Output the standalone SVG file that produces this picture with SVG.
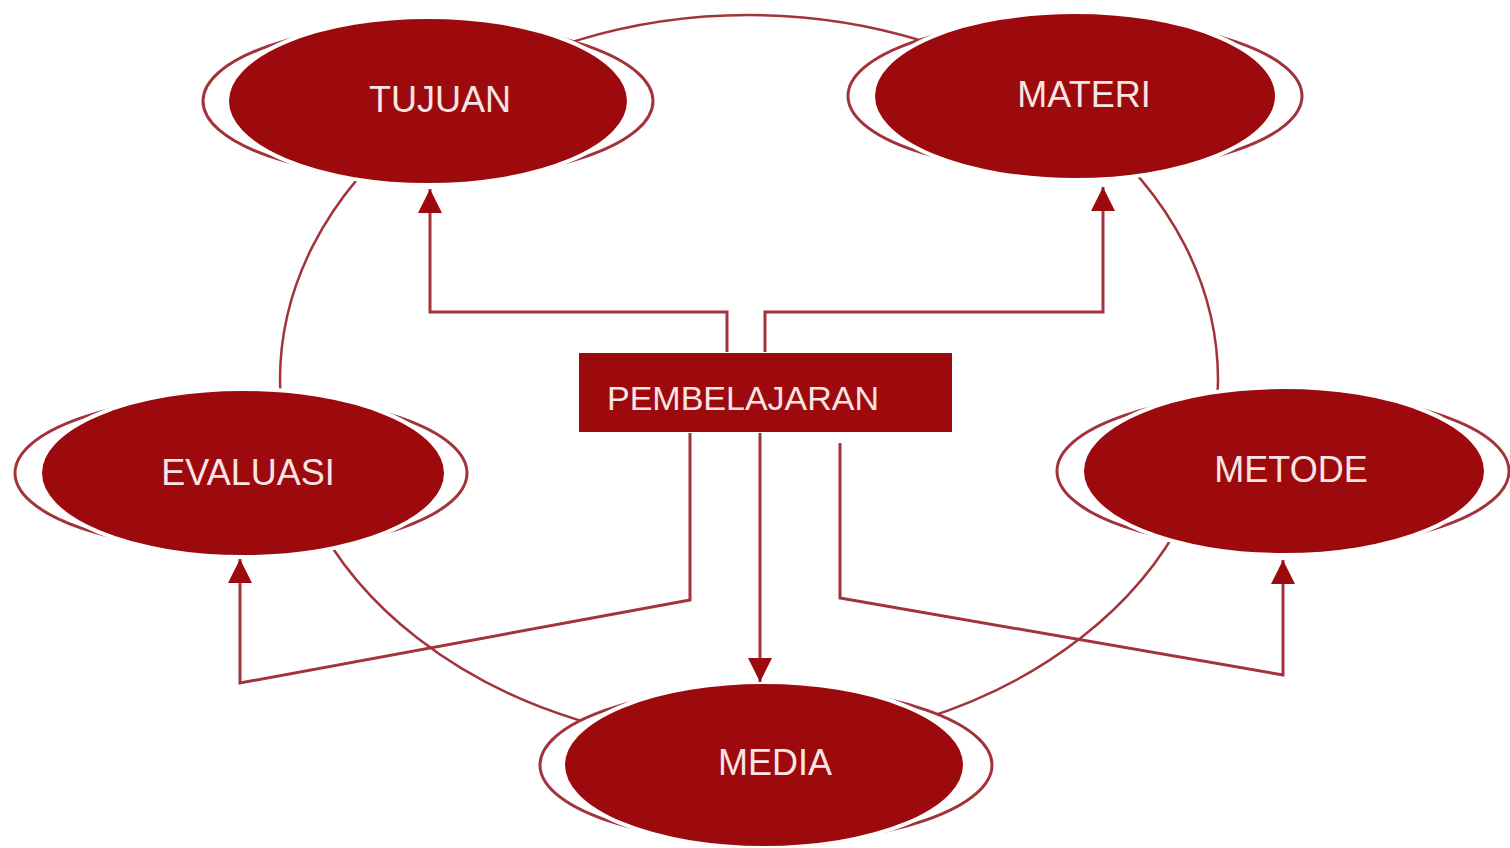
<svg xmlns="http://www.w3.org/2000/svg" width="1510" height="848" viewBox="0 0 1510 848">
<defs>
<style>
.ring{fill:#fff;stroke:#a3333a;stroke-width:3}
.fill{fill:#9c0a0e;stroke:#fff;stroke-width:4}
.lbl{font-family:"Liberation Sans",Arial,sans-serif;font-size:36px;fill:#fbe4e4;text-anchor:middle}
.con{fill:none;stroke:#a3333a;stroke-width:3;stroke-linejoin:miter}
.big{fill:none;stroke:#a3333a;stroke-width:2.5}
</style>
<marker id="ah" viewBox="0 0 10 10" refX="10" refY="5" markerWidth="8" markerHeight="8" markerUnits="strokeWidth" orient="auto">
<path d="M0,0 L10,5 L0,10 Z" fill="#9c0a0e"/>
</marker>
</defs>
<rect width="1510" height="848" fill="#fff"/>
<ellipse class="big" cx="749" cy="380" rx="469" ry="365"/>
<g id="tujuan">
<ellipse class="ring" cx="428" cy="101" rx="225" ry="78"/>
<ellipse class="fill" cx="428" cy="101" rx="201" ry="84"/>
<text class="lbl" x="440" y="112">TUJUAN</text>
</g>
<g id="materi">
<ellipse class="ring" cx="1075" cy="96" rx="227" ry="77"/>
<ellipse class="fill" cx="1075" cy="96" rx="202" ry="84"/>
<text class="lbl" x="1084" y="107">MATERI</text>
</g>
<g id="evaluasi">
<ellipse class="ring" cx="241" cy="473" rx="226" ry="78"/>
<ellipse class="fill" cx="243" cy="473" rx="203" ry="84"/>
<text class="lbl" x="248" y="485">EVALUASI</text>
</g>
<g id="metode">
<ellipse class="ring" cx="1283" cy="471" rx="226" ry="78"/>
<ellipse class="fill" cx="1284" cy="471" rx="202" ry="84"/>
<text class="lbl" x="1291" y="482">METODE</text>
</g>
<g id="media">
<ellipse class="ring" cx="766" cy="765" rx="226" ry="78"/>
<ellipse class="fill" cx="764" cy="765" rx="201" ry="83"/>
<text class="lbl" x="775" y="775">MEDIA</text>
</g>
<g id="pembelajaran">
<rect x="578" y="352" width="375" height="81" fill="#9c0a0e" stroke="#fff" stroke-width="2"/>
<text class="lbl" x="743" y="410" style="font-size:34px">PEMBELAJARAN</text>
</g>
<g id="connectors">
<polyline class="con" points="727,352 727,312 430,312 430,189" marker-end="url(#ah)"/>
<polyline class="con" points="765,352 765,312 1103,312 1103,187" marker-end="url(#ah)"/>
<polyline class="con" points="690,433 690,600 240,683 240,559" marker-end="url(#ah)"/>
<polyline class="con" points="840,443 840,598 1283,675 1283,560" marker-end="url(#ah)"/>
<polyline class="con" points="760,433 760,682" marker-end="url(#ah)"/>
</g>
</svg>
